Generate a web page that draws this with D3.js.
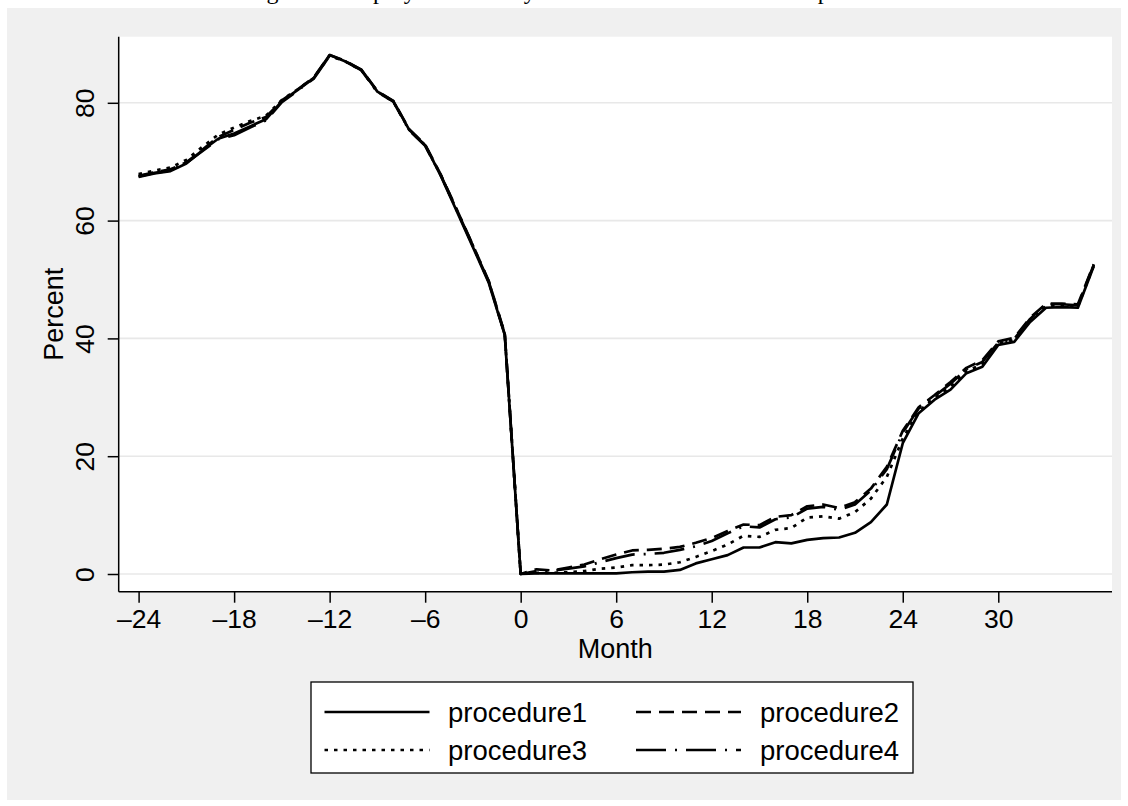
<!DOCTYPE html>
<html>
<head>
<meta charset="utf-8">
<script src="https://cdn.jsdelivr.net/npm/d3@7"></script>
<style>
  body { margin: 0; background: #fff; }
  text { font-family: "Liberation Sans", Arial, sans-serif; }
</style>
</head>
<body>
<svg id="chart" width="1128" height="806"></svg>
<script>
// months relative to the procedure
const months = [-24, -23, -22, -21, -20, -19, -18, -17, -16, -15, -14, -13, -12, -11, -10, -9, -8, -7, -6, -5, -4, -3, -2, -1,
  0, 1, 2, 3, 4, 5, 6, 7, 8, 9, 10, 11, 12, 13, 14, 15, 16, 17, 18, 19, 20, 21, 22, 23, 24, 25, 26, 27, 28, 29, 30, 31, 32, 33, 34, 35, 36];

// percent employed
const procedure1 = [67.4, 68.0, 68.4, 69.7, 71.9, 73.9, 74.8, 76.0, 77.2, 80.3, 82.2, 84.2, 88.1, 87.0, 85.6, 81.9, 80.3, 75.4, 72.8, 67.5, 61.5, 55.5, 49.4, 40.6,
  0.0, 0.1, 0.1, 0.1, 0.1, 0.1, 0.1, 0.3, 0.4, 0.4, 0.7, 1.8, 2.5, 3.2, 4.5, 4.5, 5.4, 5.2, 5.8, 6.1, 6.2, 7.0, 8.8, 11.8, 22.2, 27.3, 29.6, 31.3, 34.1, 35.2, 38.9, 39.4, 42.8, 45.2, 45.3, 45.2, 52.3];
const procedure2 = [67.6, 68.2, 68.7, 69.9, 72.0, 74.2, 75.4, 76.6, 77.6, 80.4, 82.3, 84.3, 88.1, 87.1, 85.6, 82.0, 80.3, 75.5, 72.9, 67.7, 61.8, 55.8, 49.7, 40.8,
  0.0, 0.8, 0.6, 1.1, 1.6, 2.5, 3.3, 4.0, 4.1, 4.3, 4.6, 5.3, 6.1, 7.3, 8.4, 8.3, 9.7, 10.0, 11.5, 11.8, 11.2, 12.2, 14.5, 18.2, 24.3, 28.3, 30.4, 32.6, 35.0, 36.3, 39.5, 40.1, 43.5, 45.9, 45.9, 45.8, 52.6];
const procedure3 = [67.9, 68.5, 69.0, 70.3, 72.5, 74.6, 75.8, 76.9, 77.8, 80.5, 82.3, 84.2, 88.0, 87.0, 85.5, 81.9, 80.2, 75.4, 72.8, 67.6, 61.7, 55.7, 49.6, 40.7,
  0.0, 0.2, 0.2, 0.3, 0.5, 0.9, 1.1, 1.5, 1.5, 1.6, 2.0, 2.9, 3.9, 5.0, 6.5, 6.3, 7.5, 7.8, 9.6, 9.8, 9.4, 10.5, 12.8, 16.5, 23.0, 27.6, 29.9, 31.8, 34.5, 35.6, 39.1, 39.7, 43.0, 45.5, 45.5, 45.4, 52.4];
const procedure4 = [67.5, 68.1, 68.5, 69.8, 71.8, 73.8, 74.5, 75.8, 77.0, 80.1, 82.1, 84.1, 88.0, 87.0, 85.5, 81.8, 80.2, 75.3, 72.7, 67.6, 61.7, 55.7, 49.6, 40.7,
  0.0, 0.5, 0.6, 0.9, 1.3, 2.0, 2.7, 3.3, 3.4, 3.6, 4.1, 4.7, 5.6, 6.9, 8.1, 7.9, 9.3, 9.6, 11.1, 11.4, 10.9, 11.8, 14.2, 17.8, 24.0, 28.1, 30.2, 32.3, 34.8, 36.0, 39.3, 39.9, 43.3, 45.8, 45.8, 45.6, 52.5];

const seriesNames = ["procedure1", "procedure2", "procedure3", "procedure4"];
const xTicks = [-24, -18, -12, -6, 0, 6, 12, 18, 24, 30];
const yTicks = [0, 20, 40, 60, 80];

const dashes = { procedure1: null, procedure2: "15,8", procedure3: "3.5,6", procedure4: "30,9,2,9" };
const allSeries = [procedure1, procedure2, procedure3, procedure4];

const svg = d3.select("#chart");

// caption of the page, cropped so only the bottoms of the letters remain
svg.append("text")
  .attr("x", 580).attr("y", -1)
  .attr("text-anchor", "middle")
  .style("font-family", "'Liberation Serif', serif")
  .style("font-size", "24px")
  .text("Figure 3: Employment rate by months since the start of the procedure");

svg.append("rect")
  .attr("x", 7).attr("y", 8).attr("width", 1114).attr("height", 792)
  .attr("fill", "#f0f0f0");

const plot = { left: 118.7, right: 1112, top: 36.7, bottom: 591.7 };

svg.append("rect")
  .attr("x", plot.left).attr("y", plot.top)
  .attr("width", plot.right - plot.left).attr("height", plot.bottom - plot.top)
  .attr("fill", "#fff");

const x = d3.scaleLinear().domain([-24, 36]).range([138.6, 1093.8]);
const y = d3.scaleLinear().domain([0, 80]).range([574, 102.8]);

// grid
svg.append("g").selectAll("line")
  .data(yTicks)
  .enter().append("line")
  .attr("x1", plot.left).attr("x2", plot.right)
  .attr("y1", d => y(d)).attr("y2", d => y(d))
  .attr("stroke", "#e8e8e8")
  .attr("stroke-width", 1.6);

// axes
const xAxis = svg.append("g")
  .attr("transform", "translate(0," + plot.bottom + ")")
  .call(d3.axisBottom(x).tickValues(xTicks).tickSize(11).tickPadding(10)
    .tickFormat(d => d < 0 ? "\u2013" + Math.abs(d) : d));
xAxis.select(".domain").attr("d", "M" + plot.left + ",0H" + plot.right)
  .attr("stroke", "#000").attr("stroke-width", 1.5);
xAxis.selectAll(".tick line").attr("stroke", "#000").attr("stroke-width", 1.5);
xAxis.selectAll(".tick text")
  .attr("y", 36.5).attr("dy", null)
  .style("font-family", "'Liberation Sans', Arial, sans-serif")
  .style("font-size", "26.5px").attr("fill", "#000");

const yAxis = svg.append("g")
  .attr("transform", "translate(" + plot.left + ",0)")
  .call(d3.axisLeft(y).tickValues(yTicks).tickSize(11));
yAxis.select(".domain").attr("d", "M0," + plot.top + "V" + plot.bottom)
  .attr("stroke", "#000").attr("stroke-width", 1.5);
yAxis.selectAll(".tick line").attr("stroke", "#000").attr("stroke-width", 1.5);
yAxis.selectAll(".tick text")
  .attr("x", null).attr("dy", null)
  .attr("transform", "translate(-24.5,0) rotate(-90)")
  .attr("text-anchor", "middle")
  .style("font-family", "'Liberation Sans', Arial, sans-serif")
  .style("font-size", "26.5px").attr("fill", "#000");

svg.append("text")
  .attr("x", (plot.left + plot.right) / 2).attr("y", 658)
  .attr("text-anchor", "middle")
  .style("font-size", "27px")
  .text("Month");

svg.append("text")
  .attr("transform", "translate(63," + (plot.top + plot.bottom) / 2 + ") rotate(-90)")
  .attr("text-anchor", "middle")
  .style("font-size", "27px")
  .text("Percent");

// lines
const line = d3.line()
  .x((d, i) => x(months[i]))
  .y(d => y(d));

svg.append("g").selectAll("path")
  .data(allSeries)
  .enter().append("path")
  .attr("d", d => line(d))
  .attr("fill", "none")
  .attr("stroke", "#000")
  .attr("stroke-width", 2.7)
  .attr("stroke-linejoin", "round")
  .attr("stroke-dasharray", (d, i) => dashes[seriesNames[i]]);

// legend
const legend = svg.append("g");
legend.append("rect")
  .attr("x", 311).attr("y", 682).attr("width", 602).attr("height", 91)
  .attr("fill", "#fff").attr("stroke", "#000").attr("stroke-width", 1.3);

const legendPos = [
  { lx: 324.5, tx: 448, y: 712 },
  { lx: 636, tx: 760, y: 712 },
  { lx: 324.5, tx: 448, y: 750 },
  { lx: 636, tx: 760, y: 750 }
];

seriesNames.forEach((name, i) => {
  const p = legendPos[i];
  legend.append("line")
    .attr("x1", p.lx).attr("x2", p.lx + 105)
    .attr("y1", p.y).attr("y2", p.y)
    .attr("stroke", "#000").attr("stroke-width", 2.4)
    .attr("stroke-dasharray", dashes[name]);
  legend.append("text")
    .attr("x", p.tx).attr("y", p.y + 9.5)
    .style("font-size", "27.5px")
    .text(name);
});
</script>
</body>
</html>
